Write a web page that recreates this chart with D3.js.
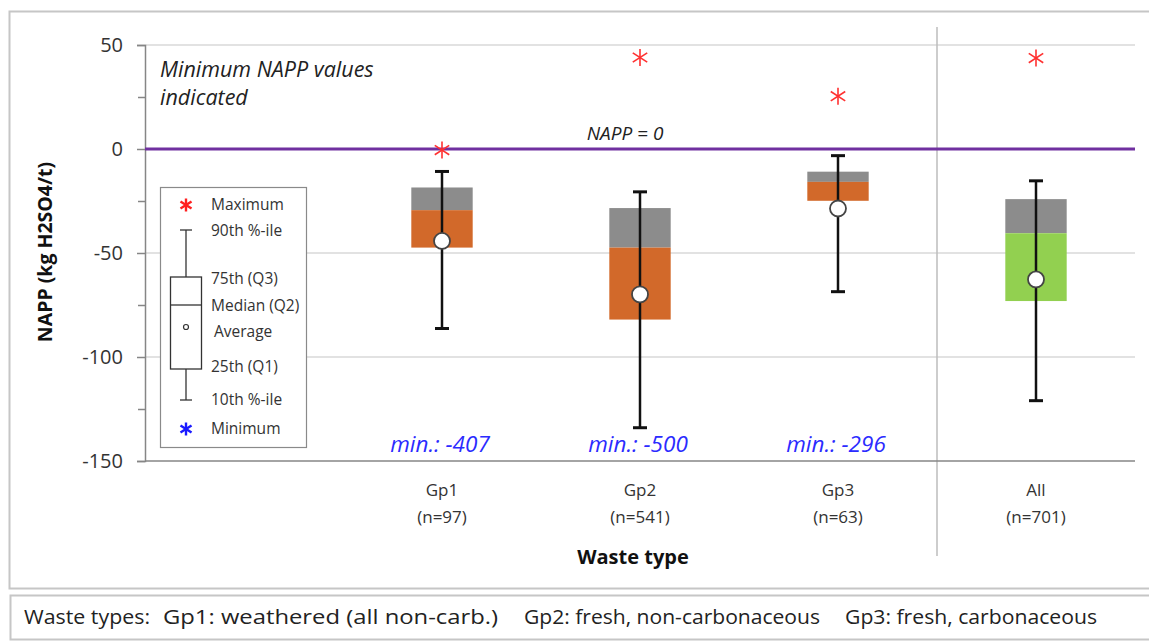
<!DOCTYPE html>
<html>
<head>
<meta charset="utf-8">
<script src="https://cdn.jsdelivr.net/npm/d3@7"></script>
<style>
  html, body { margin: 0; padding: 0; background: #fff; }
  svg { display: block; font-family: "Open Sans", "Noto Sans", sans-serif; }
</style>
</head>
<body>
<svg id="chart" width="1149" height="642"></svg>
<script>
// NAPP distribution per waste type
const categories = ["Gp1", "Gp2", "Gp3", "All"];
const sampleSizes = [97, 541, 63, 701];
const p90 = [-10.8, -20.6, -3.2, -15.3];
const q3 = [-18.5, -28.4, -10.9, -24.1];
const median = [-29.4, -47.4, -15.8, -40.5];
const q1 = [-47.4, -82, -24.9, -73.1];
const p10 = [-86.3, -134, -68.6, -121];
const average = [-44.2, -69.9, -28.6, -62.7];
const maximum = [-0.5, 44, 25.4, 43.7];
const minimumLabels = [-407, -500, -296, null];
const boxColors = ["#d2692a", "#d2692a", "#d2692a", "#92d050"];
const yTicks = [50, 0, -50, -100, -150];
const yMinorTicks = [25, -25, -75, -125];
const footerItems = ["Waste types:", "Gp1: weathered (all non-carb.)", "Gp2: fresh, non-carbonaceous", "Gp3: fresh, carbonaceous"];

const svg = d3.select("#chart");

// frames
svg.append("rect").attr("x", 9.5).attr("y", 11.5).attr("width", 1150).attr("height", 577)
  .attr("fill", "#fff").attr("stroke", "#c6c6c6").attr("stroke-width", 2);
svg.append("rect").attr("x", 10.5).attr("y", 595.5).attr("width", 1150).attr("height", 44)
  .attr("fill", "#fff").attr("stroke", "#c6c6c6").attr("stroke-width", 2);

const x = d3.scaleBand().domain(["", ...categories]).range([145, 1135]).padding(0);
const y = d3.scaleLinear().domain([-150, 50]).range([461, 45]);
const boxW = x.bandwidth() * 0.31;
const cx = c => x(c) + x.bandwidth() / 2;

// gridlines
svg.append("g").selectAll("line").data(yTicks.filter(v => v !== 0 && v !== -150)).join("line")
  .attr("x1", 145).attr("x2", 1135).attr("y1", d => y(d)).attr("y2", d => y(d))
  .attr("stroke", "#d9d9d9").attr("stroke-width", 1.5);

// separator before "All"
svg.append("line").attr("x1", x("All")).attr("x2", x("All")).attr("y1", 27).attr("y2", 556)
  .attr("stroke", "#bcbcbc").attr("stroke-width", 1.5);

// y axis
const yAxis = svg.append("g").attr("transform", "translate(145,0)")
  .call(d3.axisLeft(y).tickValues(yTicks).tickSize(8).tickPadding(14).tickFormat(d => String(d)));
yAxis.select(".domain").attr("stroke", "#868686").attr("stroke-width", 1.5);
yAxis.selectAll(".tick line").attr("stroke", "#868686").attr("stroke-width", 1.5);
yAxis.selectAll(".tick text").attr("font-size", 20).attr("fill", "#333")
  .attr("font-family", "Open Sans, sans-serif");
const yMinor = svg.append("g").attr("transform", "translate(145,0)")
  .call(d3.axisLeft(y).tickValues(yMinorTicks).tickSize(7).tickFormat(""));
yMinor.select(".domain").remove();
yMinor.selectAll(".tick line").attr("stroke", "#868686").attr("stroke-width", 1.5);

// x axis line
svg.append("line").attr("x1", 145).attr("x2", 1135).attr("y1", y(-150)).attr("y2", y(-150))
  .attr("stroke", "#868686").attr("stroke-width", 1.5);

// NAPP = 0 reference line
svg.append("line").attr("x1", 145).attr("x2", 1135).attr("y1", y(0)).attr("y2", y(0))
  .attr("stroke", "#7030a0").attr("stroke-width", 3);
svg.append("text").attr("x", 625).attr("y", 140).attr("text-anchor", "middle")
  .attr("font-style", "italic").attr("font-size", 19).attr("fill", "#222").text("NAPP = 0");

// note text
const note = svg.append("text").attr("font-style", "italic").attr("font-size", 21.5).attr("fill", "#222");
note.append("tspan").attr("x", 160).attr("y", 77).text("Minimum NAPP values");
note.append("tspan").attr("x", 160).attr("y", 105).text("indicated");

// boxes
const boxes = svg.append("g").selectAll("g").data(categories).join("g");
boxes.append("rect")
  .attr("x", c => cx(c) - boxW / 2).attr("width", boxW)
  .attr("y", (c, i) => y(q3[i])).attr("height", (c, i) => y(median[i]) - y(q3[i]))
  .attr("fill", "#8c8c8c");
boxes.append("rect")
  .attr("x", c => cx(c) - boxW / 2).attr("width", boxW)
  .attr("y", (c, i) => y(median[i])).attr("height", (c, i) => y(q1[i]) - y(median[i]))
  .attr("fill", (c, i) => boxColors[i]);
boxes.append("line")
  .attr("x1", c => cx(c)).attr("x2", c => cx(c))
  .attr("y1", (c, i) => y(p90[i])).attr("y2", (c, i) => y(p10[i]))
  .attr("stroke", "#111").attr("stroke-width", 2.5);
[p90, p10].forEach(arr => {
  boxes.append("line")
    .attr("x1", c => cx(c) - 7).attr("x2", c => cx(c) + 7)
    .attr("y1", (c, i) => y(arr[i])).attr("y2", (c, i) => y(arr[i]))
    .attr("stroke", "#111").attr("stroke-width", 3);
});
boxes.append("circle")
  .attr("cx", c => cx(c)).attr("cy", (c, i) => y(average[i])).attr("r", 8)
  .attr("fill", "#fff").attr("stroke", "#444").attr("stroke-width", 1.8);

// asterisk marker
function star(sel, px, py, color, s, w) {
  const g = sel.append("g").attr("transform", `translate(${px},${py})`)
    .attr("stroke", color).attr("stroke-width", w).attr("fill", "none");
  g.append("line").attr("x1", 0).attr("x2", 0).attr("y1", -s).attr("y2", s);
  g.append("line").attr("x1", -s * 0.85).attr("x2", s * 0.85).attr("y1", -s * 0.55).attr("y2", s * 0.55);
  g.append("line").attr("x1", -s * 0.85).attr("x2", s * 0.85).attr("y1", s * 0.55).attr("y2", -s * 0.55);
}
categories.forEach((c, i) => star(svg, cx(c), y(maximum[i]), "#ff3030", 8.5, 1.6));

// minimum annotations
svg.append("g").selectAll("text").data(categories.filter((c, i) => minimumLabels[i] !== null)).join("text")
  .attr("x", c => cx(c) - 2).attr("y", 452).attr("text-anchor", "middle")
  .attr("font-style", "italic").attr("font-size", 22.5).attr("fill", "#2b2bff")
  .text(c => `min.: ${minimumLabels[categories.indexOf(c)]}`);

// category labels
const xl = svg.append("g").selectAll("text").data(categories).join("text")
  .attr("text-anchor", "middle").attr("font-size", 17).attr("fill", "#333");
xl.append("tspan").attr("x", c => cx(c)).attr("y", 496).text(c => c);
xl.append("tspan").attr("x", c => cx(c)).attr("y", 523).text((c, i) => `(n=${sampleSizes[i]})`);

// axis titles
svg.append("text").attr("x", 633).attr("y", 564).attr("text-anchor", "middle")
  .attr("font-weight", "bold").attr("font-size", 20).attr("fill", "#111").text("Waste type");
svg.append("text").attr("transform", "translate(52,252) rotate(-90)").attr("text-anchor", "middle")
  .attr("font-weight", "bold").attr("font-size", 19.5).attr("fill", "#111").text("NAPP (kg H2SO4/t)");

// legend
const lg = svg.append("g");
lg.append("rect").attr("x", 160.5).attr("y", 187.5).attr("width", 146).attr("height", 260)
  .attr("fill", "#fff").attr("stroke", "#8a8a8a").attr("stroke-width", 1.2);
star(lg, 186, 205, "#ff2020", 6.5, 2.4);
star(lg, 186, 429, "#1a1aff", 6.5, 2.4);
lg.append("line").attr("x1", 186).attr("x2", 186).attr("y1", 230).attr("y2", 400).attr("stroke", "#333").attr("stroke-width", 1.3);
[230, 400].forEach(v => lg.append("line").attr("x1", 180).attr("x2", 192).attr("y1", v).attr("y2", v).attr("stroke", "#333").attr("stroke-width", 1.3));
lg.append("rect").attr("x", 170.5).attr("y", 277).attr("width", 31).attr("height", 92)
  .attr("fill", "#fff").attr("stroke", "#333").attr("stroke-width", 1.3);
lg.append("line").attr("x1", 170.5).attr("x2", 201.5).attr("y1", 305).attr("y2", 305).attr("stroke", "#333").attr("stroke-width", 1.3);
lg.append("circle").attr("cx", 186).attr("cy", 327).attr("r", 2.5).attr("fill", "#fff").attr("stroke", "#333").attr("stroke-width", 1.2);
const legendLabels = [["Maximum", 210], ["90th %-ile", 236], ["75th (Q3)", 284], ["Median (Q2)", 311],
  ["Average", 337], ["25th (Q1)", 372], ["10th %-ile", 405], ["Minimum", 434]];
lg.selectAll("text.l").data(legendLabels).join("text").attr("class", "l")
  .attr("x", d => d[0] === "Average" ? 214 : 211).attr("y", d => d[1])
  .attr("font-size", 15.5).attr("fill", "#333").text(d => d[0]);

// footer: one run of text per item, spread across the strip
const footerX = [24, 163, 524, 845];
const footerW = [126, 335, 296, 252];
svg.append("g").selectAll("text").data(footerItems).join("text")
  .attr("x", (d, i) => footerX[i]).attr("y", 624)
  .attr("font-size", 19.5).attr("fill", "#222")
  .attr("textLength", (d, i) => footerW[i]).attr("lengthAdjust", "spacingAndGlyphs")
  .text(d => d);
</script>
</body>
</html>
